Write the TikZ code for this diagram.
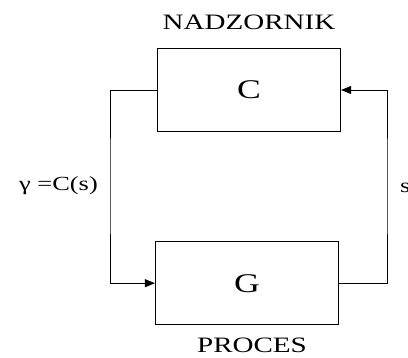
\documentclass[tikz,border=0pt]{standalone}
\usepackage{fontspec}
\setmainfont{Liberation Serif}
\usetikzlibrary{arrows.meta,positioning}
\newcommand{\siroko}[1]{\scalebox{1.32}[1]{#1}}
\tikzset{
  blok/.style={draw, line width=1.2pt, minimum width=183pt, minimum height=83pt, font=\fontsize{27}{30}\selectfont},
  naziv/.style={font=\fontsize{22}{24}\selectfont, inner sep=0pt},
  wire/.style={line width=0.9pt},
  arrow/.style={wire, -{Triangle[length=10pt, width=8pt]}}
}
\begin{document}
\begin{tikzpicture}[x=1pt, y=-1pt]
\useasboundingbox (0,0) rectangle (408,358);
\node[blok] (c) at (249,90) {\siroko{C}};
\node[blok, below=109pt of c, xshift=-2pt] (g) {\siroko{G}};
\node[naziv] (nadz) at (249,22) {\siroko{NADZORNIK}};
\node[naziv] (proc) at (252,345) {\siroko{PROCES}};
\coordinate (lft) at (110,186);
\coordinate (rgt) at (387,186);
\draw[arrow] (c.west) -| (lft) |- (g.west);
\draw[arrow] (g.east) -| (rgt) |- (c.east);
\node[naziv, font=\fontsize{20}{22}\selectfont, anchor=east] (gam) at (98,186) {\siroko{γ =C(s)}};
\node[naziv, font=\fontsize{20}{22}\selectfont, anchor=west] (s) at (400,188) {\siroko{s}};
\end{tikzpicture}
\end{document}
